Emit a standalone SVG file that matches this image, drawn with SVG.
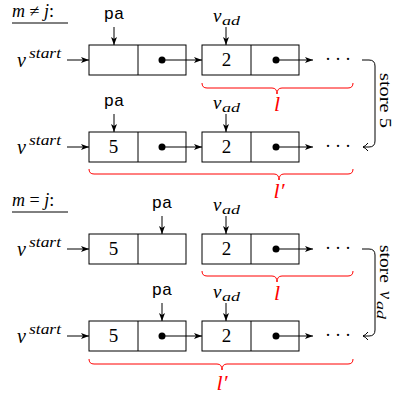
<svg xmlns="http://www.w3.org/2000/svg" width="396" height="394" viewBox="0 0 396 394">
<defs>
<style>
.bx{fill:#fff;stroke:#000;stroke-width:1}
.ln{fill:none;stroke:#000;stroke-width:1}
.br{fill:none;stroke:#f00;stroke-width:1}
.ser{font-family:"Liberation Serif",serif;fill:#000}
.it{font-family:"Liberation Serif",serif;font-style:italic;fill:#000}
.mono{font-family:"Liberation Mono",monospace;fill:#000;font-size:17px;text-anchor:middle}
.num{font-family:"Liberation Serif",serif;font-size:19px;text-anchor:middle}
.red{fill:#f00;font-family:"Liberation Serif",serif;font-style:italic;font-size:22px;text-anchor:middle}
</style>
<marker id="ah" viewBox="0 0 8 6" refX="8" refY="3" markerWidth="8" markerHeight="6" markerUnits="userSpaceOnUse" orient="auto">
<path d="M0,0 L8,3 L0,6 L2,3 z" fill="#000"/>
</marker>
<marker id="oh" viewBox="-6 -5 7 10" refX="0" refY="0" markerWidth="7" markerHeight="10" markerUnits="userSpaceOnUse" orient="auto">
<path d="M-5,-4 Q-2,-0.5 0,0 Q-2,0.5 -5,4" fill="none" stroke="#000" stroke-width="1"/>
</marker>
</defs>
<rect width="396" height="394" fill="#fff"/>

<g id="label-neq">
<text class="it" x="12" y="17" font-size="18">m <tspan font-style="normal">≠</tspan> j<tspan font-style="normal">:</tspan></text>
<line class="ln" x1="12" y1="23" x2="68" y2="23"/>
</g>
<g id="label-eq">
<text class="it" x="12" y="206" font-size="18">m <tspan font-style="normal">=</tspan> j<tspan font-style="normal">:</tspan></text>
<line class="ln" x1="12" y1="212" x2="68" y2="212"/>
</g>

<!-- Row 1 -->
<g id="r1-start"><text class="it" x="17" y="67" font-size="20">v</text><text class="it" x="29" y="58" font-size="14" textLength="32" lengthAdjust="spacingAndGlyphs">start</text></g>
<g id="r1-n1"><rect class="bx" x="89" y="45" width="97" height="30"/><line class="ln" x1="138" y1="45" x2="138" y2="75"/></g>
<g id="r1-n2"><rect class="bx" x="202" y="45" width="97" height="30"/><line class="ln" x1="251" y1="45" x2="251" y2="75"/><text class="num" x="226.5" y="66">2</text></g>
<g id="r1-pa"><text class="mono" x="114" y="19">pa</text></g>
<g id="r1-vad"><text class="it" x="213" y="22" font-size="19">v</text><text class="it" x="222" y="25" font-size="13" textLength="18" lengthAdjust="spacingAndGlyphs">ad</text></g>
<g id="r1-dots"><text class="ser" x="325 335 345" y="65" font-size="18">···</text></g>
<g id="r1-l"><path class="br" d="M202,83 q0,5 5,5 L272,88 q5,0 5,6 q0,-6 5,-6 L348,88 q5,0 5,-5"/><text class="red" x="277" y="111">l</text></g>

<!-- Row 2 -->
<g id="r2-start"><text class="it" x="17" y="154" font-size="20">v</text><text class="it" x="29" y="145" font-size="14" textLength="32" lengthAdjust="spacingAndGlyphs">start</text></g>
<g id="r2-n1"><rect class="bx" x="89" y="132" width="97" height="30"/><line class="ln" x1="138" y1="132" x2="138" y2="162"/><text class="num" x="113.5" y="153">5</text></g>
<g id="r2-n2"><rect class="bx" x="202" y="132" width="97" height="30"/><line class="ln" x1="251" y1="132" x2="251" y2="162"/><text class="num" x="226.5" y="153">2</text></g>
<g id="r2-pa"><text class="mono" x="114" y="106">pa</text></g>
<g id="r2-vad"><text class="it" x="213" y="109" font-size="19">v</text><text class="it" x="222" y="112" font-size="13" textLength="18" lengthAdjust="spacingAndGlyphs">ad</text></g>
<g id="r2-dots"><text class="ser" x="325 335 345" y="152" font-size="18">···</text></g>
<g id="r2-l"><path class="br" d="M89,169 q0,5 5,5 L274,174 q5,0 5,6 q0,-6 5,-6 L348,174 q5,0 5,-5"/><text class="red" x="279" y="198">l′</text></g>

<!-- Row 3 -->
<g id="r3-start"><text class="it" x="17" y="256" font-size="20">v</text><text class="it" x="29" y="247" font-size="14" textLength="32" lengthAdjust="spacingAndGlyphs">start</text></g>
<g id="r3-n1"><rect class="bx" x="89" y="234" width="97" height="30"/><line class="ln" x1="138" y1="234" x2="138" y2="264"/><text class="num" x="113.5" y="255">5</text></g>
<g id="r3-n2"><rect class="bx" x="202" y="234" width="97" height="30"/><line class="ln" x1="251" y1="234" x2="251" y2="264"/><text class="num" x="226.5" y="255">2</text></g>
<g id="r3-pa"><text class="mono" x="162" y="208">pa</text></g>
<g id="r3-vad"><text class="it" x="213" y="211" font-size="19">v</text><text class="it" x="222" y="214" font-size="13" textLength="18" lengthAdjust="spacingAndGlyphs">ad</text></g>
<g id="r3-dots"><text class="ser" x="325 335 345" y="254" font-size="18">···</text></g>
<g id="r3-l"><path class="br" d="M202,271 q0,5 5,5 L272,276 q5,0 5,6 q0,-6 5,-6 L348,276 q5,0 5,-5"/><text class="red" x="277" y="300">l</text></g>

<!-- Row 4 -->
<g id="r4-start"><text class="it" x="17" y="343" font-size="20">v</text><text class="it" x="29" y="334" font-size="14" textLength="32" lengthAdjust="spacingAndGlyphs">start</text></g>
<g id="r4-n1"><rect class="bx" x="89" y="321" width="97" height="30"/><line class="ln" x1="138" y1="321" x2="138" y2="351"/><text class="num" x="113.5" y="342">5</text></g>
<g id="r4-n2"><rect class="bx" x="202" y="321" width="97" height="30"/><line class="ln" x1="251" y1="321" x2="251" y2="351"/><text class="num" x="226.5" y="342">2</text></g>
<g id="r4-pa"><text class="mono" x="162" y="295">pa</text></g>
<g id="r4-vad"><text class="it" x="213" y="298" font-size="19">v</text><text class="it" x="222" y="301" font-size="13" textLength="18" lengthAdjust="spacingAndGlyphs">ad</text></g>
<g id="r4-dots"><text class="ser" x="325 335 345" y="341" font-size="18">···</text></g>
<g id="r4-l"><path class="br" d="M89,359 q0,5 5,5 L217,364 q5,0 5,6 q0,-6 5,-6 L348,364 q5,0 5,-5"/><text class="red" x="222" y="390">l′</text></g>

<g id="store5"><text class="ser" font-size="17" transform="translate(380,73) rotate(90)" textLength="55" lengthAdjust="spacingAndGlyphs">store 5</text></g>
<g id="storevad"><g transform="translate(380,245) rotate(90)"><text class="ser" font-size="17" x="0" y="0" textLength="38" lengthAdjust="spacingAndGlyphs">store</text><text class="it" font-size="18" x="46" y="0">v</text><text class="it" font-size="12" x="56" y="3" textLength="18" lengthAdjust="spacingAndGlyphs">ad</text></g></g>

<g id="connectors">
<line class="ln" x1="67" y1="60" x2="89" y2="60" marker-end="url(#ah)"/>
<line class="ln" x1="67" y1="147" x2="89" y2="147" marker-end="url(#ah)"/>
<line class="ln" x1="67" y1="249" x2="89" y2="249" marker-end="url(#ah)"/>
<line class="ln" x1="67" y1="336" x2="89" y2="336" marker-end="url(#ah)"/>
<line class="ln" x1="114" y1="27" x2="114" y2="45" marker-end="url(#ah)"/>
<line class="ln" x1="226" y1="27" x2="226" y2="45" marker-end="url(#ah)"/>
<line class="ln" x1="114" y1="114" x2="114" y2="132" marker-end="url(#ah)"/>
<line class="ln" x1="226" y1="114" x2="226" y2="132" marker-end="url(#ah)"/>
<line class="ln" x1="162" y1="216" x2="162" y2="234" marker-end="url(#ah)"/>
<line class="ln" x1="226" y1="216" x2="226" y2="234" marker-end="url(#ah)"/>
<line class="ln" x1="162" y1="303" x2="162" y2="321" marker-end="url(#ah)"/>
<line class="ln" x1="226" y1="303" x2="226" y2="321" marker-end="url(#ah)"/>
<circle cx="162" cy="60" r="3.5"/><line class="ln" x1="162" y1="60" x2="202" y2="60" marker-end="url(#ah)"/>
<circle cx="276" cy="60" r="3.5"/><line class="ln" x1="276" y1="60" x2="313" y2="60" marker-end="url(#ah)"/>
<circle cx="162" cy="147" r="3.5"/><line class="ln" x1="162" y1="147" x2="202" y2="147" marker-end="url(#ah)"/>
<circle cx="276" cy="147" r="3.5"/><line class="ln" x1="276" y1="147" x2="313" y2="147" marker-end="url(#ah)"/>
<circle cx="276" cy="249" r="3.5"/><line class="ln" x1="276" y1="249" x2="313" y2="249" marker-end="url(#ah)"/>
<circle cx="162" cy="336" r="3.5"/><line class="ln" x1="162" y1="336" x2="202" y2="336" marker-end="url(#ah)"/>
<circle cx="276" cy="336" r="3.5"/><line class="ln" x1="276" y1="336" x2="313" y2="336" marker-end="url(#ah)"/>
<path class="ln" d="M362,60 L369,60 Q375,60 375,66 L375,141 Q375,147 369,147 L363,147" marker-end="url(#oh)"/>
<path class="ln" d="M362,249 L369,249 Q375,249 375,255 L375,330 Q375,336 369,336 L363,336" marker-end="url(#oh)"/>
</g>
</svg>
